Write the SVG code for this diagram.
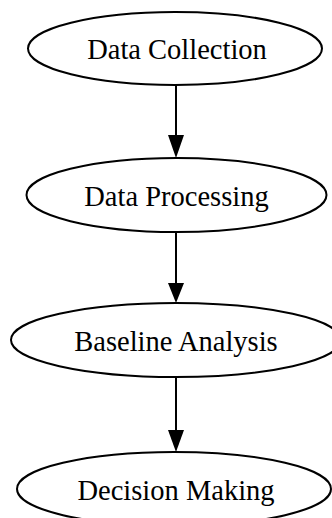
<svg xmlns="http://www.w3.org/2000/svg" width="332" height="518" viewBox="0 0 332 518">
<defs>
<style>
.n ellipse{fill:#fff;stroke:#000;stroke-width:2}
.n text{font-family:"Liberation Serif","Times New Roman",serif;font-size:28.5px;fill:#000;text-anchor:middle}
.e line{stroke:#000;stroke-width:2}
.e path{fill:#000}
</style>
</defs>
<rect width="332" height="518" fill="#fff"/>
<g id="edges" class="e">
<line x1="176" y1="85" x2="176" y2="136"/>
<path d="M168,135 L184,135 L176,158 Z"/>
<line x1="176" y1="232" x2="176" y2="284"/>
<path d="M168,283 L184,283 L176,303 Z"/>
<line x1="176" y1="377" x2="176" y2="431"/>
<path d="M168,430 L184,430 L176,452 Z"/>
</g>
<g id="n1" class="n">
<ellipse cx="175" cy="48.5" rx="147" ry="36.5"/>
<text x="177" y="59">Data Collection</text>
</g>
<g id="n2" class="n">
<ellipse cx="176.5" cy="195" rx="150" ry="37"/>
<text x="176.5" y="205.5">Data Processing</text>
</g>
<g id="n3" class="n">
<ellipse cx="176" cy="340" rx="165" ry="37"/>
<text x="176" y="350.5">Baseline Analysis</text>
</g>
<g id="n4" class="n">
<ellipse cx="174" cy="489" rx="157" ry="37"/>
<text x="176" y="499.5">Decision Making</text>
</g>
</svg>
